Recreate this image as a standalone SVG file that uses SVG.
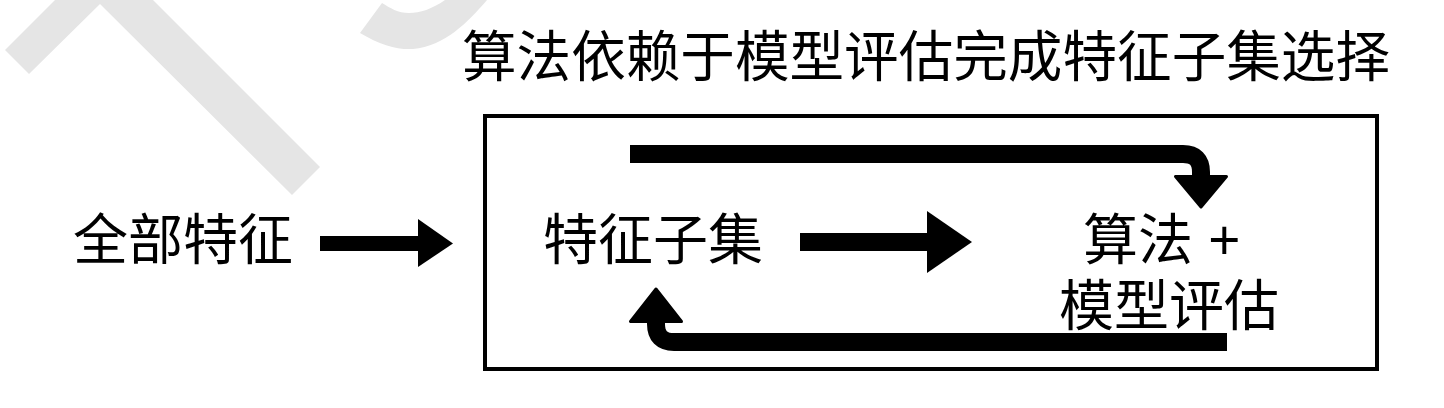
<svg xmlns="http://www.w3.org/2000/svg" width="1444" height="408" viewBox="0 0 1444 408">
<style>
.t{font-family:"Liberation Sans","Noto Sans CJK SC",sans-serif;font-size:55px;fill:#000}
.wm{fill:#e5e5e5}
.bar{fill:none;stroke:#000;stroke-width:18}
.head{fill:#000;stroke:#000;stroke-width:3;stroke-linejoin:round}
</style>
<rect width="1444" height="408" fill="#fff"/>
<g id="watermark">
<polygon class="wm" points="55,0 5,50 29,74 100,4 292,195 320,167 153,0"/>
<path class="wm" d="M360,33 C380,45 398,50 413,49 C445,46 468,22 487,0 L445,0 C432,9 420,13 409,13 C398,13 390,8 382,3 Z"/>
</g>
<g id="title"><text class="t" x="462" y="76" textLength="928" lengthAdjust="spacingAndGlyphs">算法依赖于模型评估完成特征子集选择</text></g>
<g id="all-features"><text class="t" x="73" y="259">全部特征</text></g>
<g id="frame"><rect x="485" y="116" width="892" height="253" fill="none" stroke="#000" stroke-width="4"/></g>
<g id="subset"><text class="t" x="543" y="259">特征子集</text></g>
<g id="eval">
<text class="t" x="1083" y="259">算法 +</text>
<text class="t" x="1059" y="325">模型评估</text>
</g>
<g id="connectors">
<rect x="320" y="236" width="99" height="15" fill="#000"/>
<polygon fill="#000" points="418,219 453,243.5 418,267"/>
<rect x="800" y="233" width="128" height="18" fill="#000"/>
<polygon fill="#000" points="927,211 972,242 927,273"/>
<path class="bar" d="M630,154 H1183 Q1201,154 1201,172 V178"/>
<polygon class="head" points="1175.5,176.5 1226.5,176.5 1201,207"/>
<path class="bar" d="M1227,342 H674 Q656,342 656,324 V320"/>
<polygon class="head" points="630.5,321.5 681.5,321.5 656,289"/>
</g>
</svg>
